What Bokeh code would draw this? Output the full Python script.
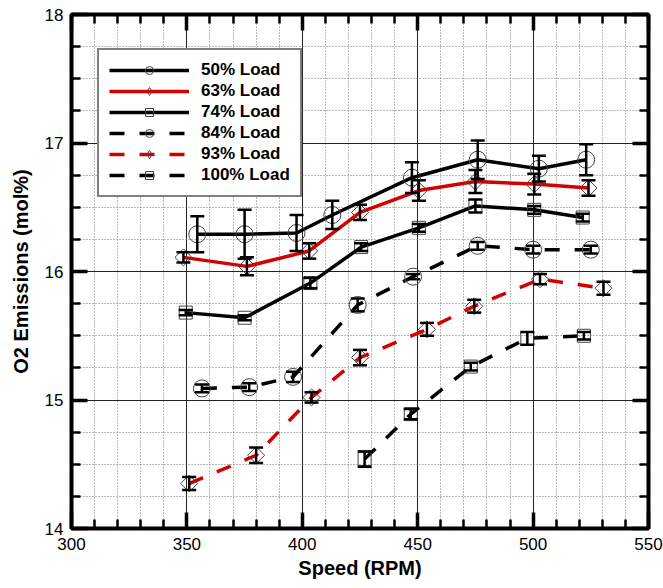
import numpy as np
from bokeh.plotting import figure
from bokeh.models import (ColumnDataSource, Whisker, TeeHead, Legend, LegendItem,
                          FixedTicker, LinearAxis, Range1d, CustomJSTickFormatter)
from bokeh.embed import file_html
from bokeh.resources import INLINE

# ---- data ----
labels = ["50% Load", "63% Load", "74% Load", "84% Load", "93% Load", "100% Load"]

x50 = [354.5, 375, 397.5, 413, 447.5, 476, 502.5, 523]
y50 = [16.29, 16.29, 16.30, 16.44, 16.73, 16.87, 16.80, 16.87]
e50 = [0.14, 0.19, 0.14, 0.11, 0.12, 0.15, 0.10, 0.12]

x63 = [348.5, 376, 403, 425, 450.5, 475, 500.5, 524]
y63 = [16.11, 16.04, 16.16, 16.46, 16.63, 16.70, 16.68, 16.65]
e63 = [0.04, 0.07, 0.06, 0.06, 0.08, 0.09, 0.08, 0.06]

x74 = [349.5, 375, 403.5, 425.5, 450.5, 475, 500.5, 521.5]
y74 = [15.68, 15.64, 15.91, 16.19, 16.34, 16.51, 16.48, 16.42]
e74 = [0.02, 0.02, 0.04, 0.03, 0.03, 0.05, 0.03, 0.03]

x84 = [356.5, 377, 396, 424, 448, 476, 500, 525]
y84 = [15.09, 15.10, 15.18, 15.74, 15.96, 16.20, 16.17, 16.17]
e84 = [0.03, 0.03, 0.04, 0.05, 0.02, 0.03, 0.03, 0.03]

x93 = [351, 380, 404, 425, 454, 474.5, 503, 530.5]
y93 = [14.35, 14.57, 15.02, 15.33, 15.55, 15.73, 15.94, 15.87]
e93 = [0.05, 0.06, 0.04, 0.06, 0.05, 0.05, 0.04, 0.05]

x100 = [427, 447, 473, 497.5, 522]
y100 = [14.54, 14.89, 15.26, 15.48, 15.50]
e100 = [0.06, 0.04, 0.03, 0.05, 0.03]

x_ticks = [300, 350, 400, 450, 500, 550]
x_minor = list(range(300, 551, 10))
y_ticks = [14, 15, 16, 17, 18]
y_minor = [14 + 0.25 * i for i in range(17)]

FONT = "Liberation Sans"

p = figure(width=663, height=588, x_range=Range1d(300, 550), y_range=Range1d(14, 18),
           output_backend="svg", toolbar_location=None,
           min_border_left=71, min_border_right=15, min_border_top=14, min_border_bottom=60,
           x_axis_label="Speed (RPM)", y_axis_label="O2 Emissions (mol%)")
p.background_fill_color = "white"
p.border_fill_color = "white"
p.outline_line_color = "black"
p.outline_line_width = 4
# range used only for the legend-key markers (rendered outside the frame)
p.extra_x_ranges = {"key": Range1d(10000, 10001)}

xt = FixedTicker(ticks=x_ticks, minor_ticks=x_minor)
yt = FixedTicker(ticks=y_ticks, minor_ticks=y_minor)

def style_axis(ax, ticker, show_labels=True):
    ax.ticker = ticker
    ax.axis_line_color = None
    ax.major_tick_in = 16
    ax.major_tick_out = 0
    ax.minor_tick_in = 9
    ax.minor_tick_out = 0
    ax.major_tick_line_width = 3.5
    ax.minor_tick_line_width = 2.5
    ax.major_tick_line_color = "black"
    ax.minor_tick_line_color = "black"
    ax.major_label_text_font = FONT
    ax.major_label_text_color = "black"
    ax.major_label_text_font_size = "17px"
    if not show_labels:
        ax.formatter = CustomJSTickFormatter(code="return ''")
        ax.major_label_standoff = 0
    ax.axis_label_text_font = FONT
    ax.axis_label_text_font_style = "bold"
    ax.axis_label_text_font_size = "20px"
    ax.axis_label_text_color = "black"

style_axis(p.xaxis[0], xt)
style_axis(p.yaxis[0], yt)
p.xaxis[0].major_label_standoff = 9
p.xaxis[0].axis_label_standoff = 4
p.yaxis[0].major_label_standoff = 8
p.yaxis[0].axis_label_standoff = 10

top = LinearAxis()
right = LinearAxis()
style_axis(top, xt, False)
style_axis(right, yt, False)
p.add_layout(top, "above")
p.add_layout(right, "right")

for g in (p.xgrid[0], p.ygrid[0]):
    g.grid_line_color = "#222222"
    g.grid_line_width = 1
    g.minor_grid_line_color = "#777777"
    g.minor_grid_line_width = 1
    g.minor_grid_line_dash = "1 2"

series = [
    (x50, y50, e50, "black", "solid", "circle", 17, 0),
    (x63, y63, e63, "#d40000", "solid", "square", 12, np.pi / 4),
    (x74, y74, e74, "black", "solid", "square", 13, 0),
    (x84, y84, e84, "black", "15 15", "circle", 17, 0),
    (x93, y93, e93, "#d40000", "15 15", "square", 12, np.pi / 4),
    (x100, y100, e100, "black", "15 15", "square", 13, 0),
]
legend_markers = ["circle", "diamond", "square", "circle", "diamond", "square"]

items = []
for lab, lm, (xs, ys, es, col, dash, mk, sz, ang) in zip(labels, legend_markers, series):
    src = ColumnDataSource(dict(x=xs, y=ys,
                                up=[a + b for a, b in zip(ys, es)],
                                lo=[a - b for a, b in zip(ys, es)]))
    lr = p.line("x", "y", source=src, line_color=col, line_width=3.5, line_dash=dash)
    sr = p.scatter("x", "y", source=src, marker=mk, size=sz, angle=ang,
                   fill_color=None, line_color="#444444", line_width=1)
    if lm == "diamond":
        kr = p.scatter("x", "y", source=src, x_range_name="key", marker="diamond",
                       size=18, fill_color=None, line_color="#444444", line_width=1)
    else:
        kr = sr
    w = Whisker(base="x", upper="up", lower="lo", source=src, level="annotation",
                line_color="black", line_width=2.5,
                upper_head=TeeHead(size=14, line_color="black", line_width=2.5),
                lower_head=TeeHead(size=14, line_color="black", line_width=2.5))
    p.add_layout(w)
    items.append(LegendItem(label=lab, renderers=[lr, kr]))

legend = Legend(items=items, location=(26, 331), margin=0, padding=10,
                spacing=1, glyph_width=80, glyph_height=20, label_standoff=12,
                label_text_font=FONT, label_text_font_style="bold",
                label_text_font_size="17px", label_text_color="black",
                border_line_color="black", border_line_width=2,
                background_fill_color="white", background_fill_alpha=1)
p.add_layout(legend)

open("out.html", "w").write(file_html(p, INLINE))
